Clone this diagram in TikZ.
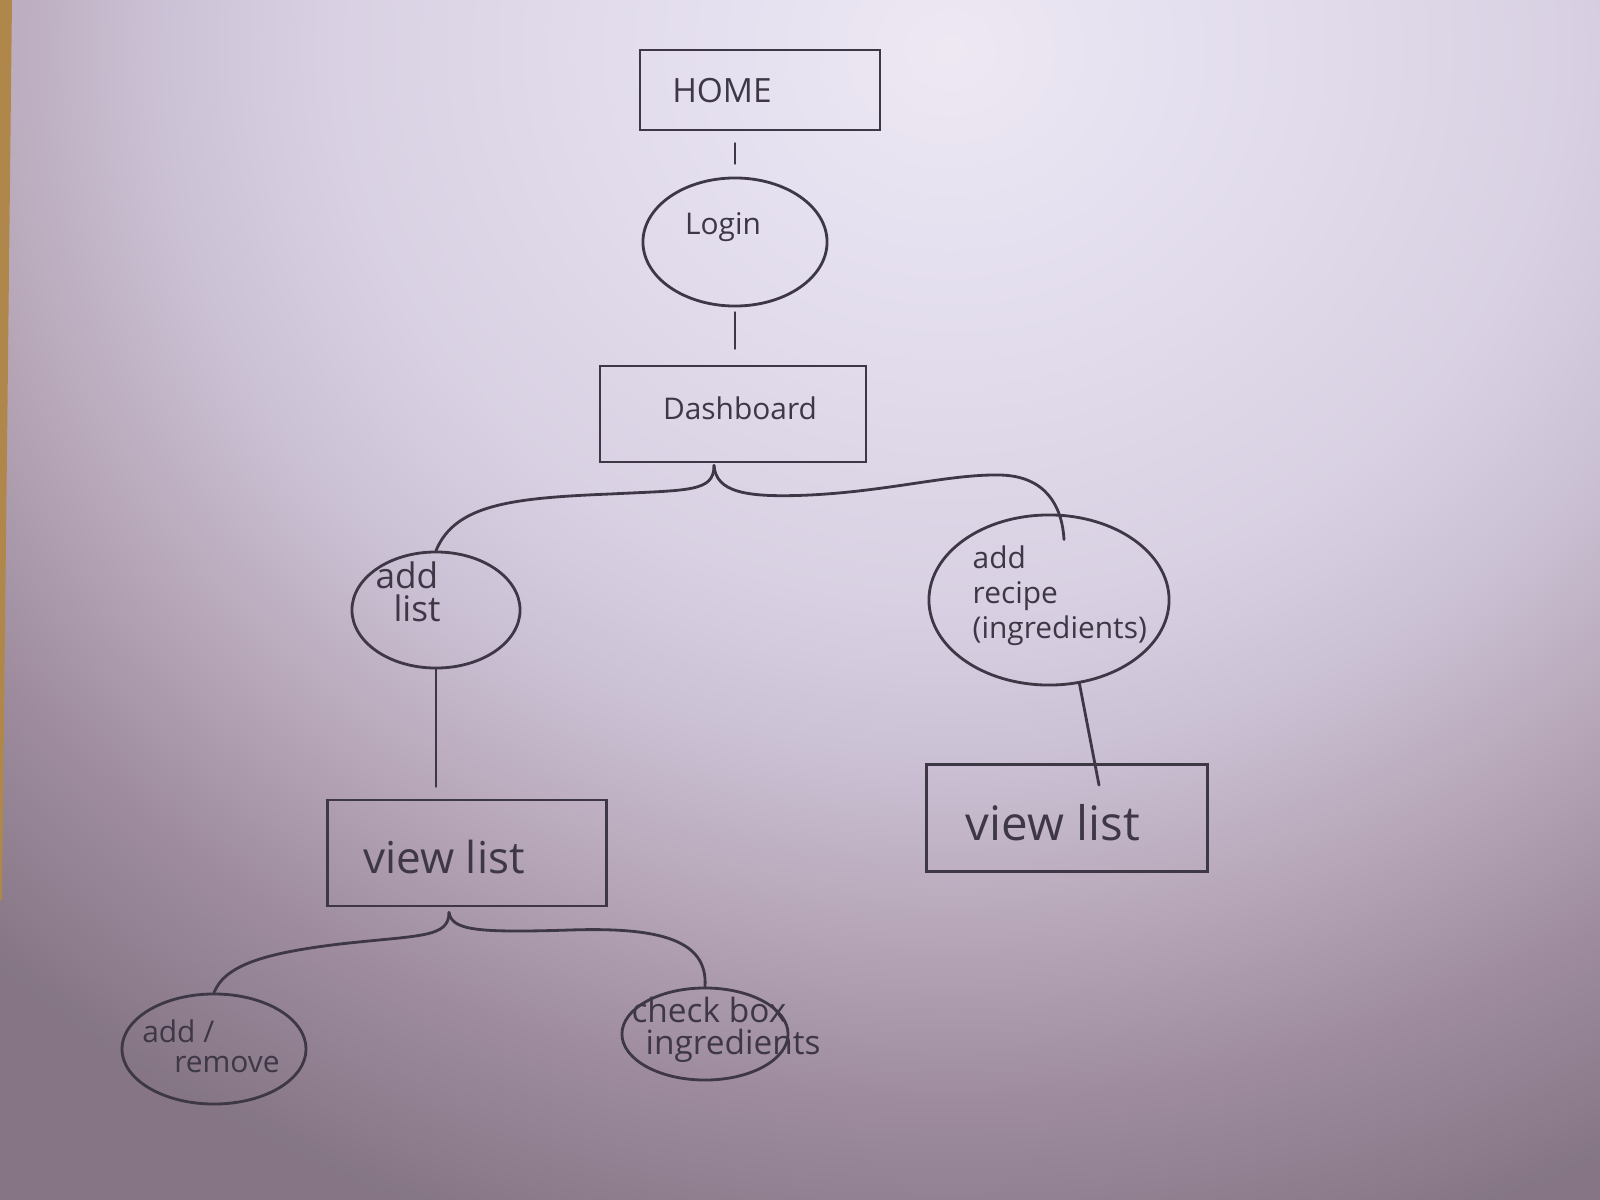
\documentclass[tikz,border=0pt]{standalone}
\usepackage{fontspec}
\setmainfont{Open Sans}
\usetikzlibrary{shapes.geometric,calc}
\definecolor{pencil}{RGB}{62,55,70}
\definecolor{strip}{RGB}{175,135,75}
\definecolor{paperdark}{rgb}{0.52,0.46,0.52}
\pgfdeclareradialshading{paper}{\pgfpoint{0bp}{0bp}}{%
  rgb(0bp)=(0.93,0.91,0.95);
  rgb(4bp)=(0.90,0.88,0.94);
  rgb(11bp)=(0.85,0.82,0.89);
  rgb(14bp)=(0.80,0.76,0.84);
  rgb(17bp)=(0.73,0.67,0.74);
  rgb(21bp)=(0.62,0.55,0.62);
  rgb(25bp)=(0.52,0.46,0.52);
  rgb(50bp)=(0.52,0.46,0.52)}
\tikzset{
  pen/.style={draw=pencil, line width=0.8pt},
  box/.style={pen, rectangle, inner sep=0pt},
  oval/.style={pen, ellipse, inner sep=0pt},
  txt/.style={text=pencil, inner sep=0pt},
  conn/.style={pen, line cap=round},
}
\begin{document}
\begin{tikzpicture}[x=0.01cm,y=-0.01cm]
% paper
\begin{scope}
  \clip (0,0) rectangle (1600,1200);
  \fill[paperdark] (0,0) rectangle (1600,1200);
  \shade[shading=paper] (950,50) ellipse [x radius=14cm, y radius=12.5cm];
  \fill[strip] (0,0) -- (12,0) -- (2,900) -- (0,900) -- cycle;
\end{scope}
\useasboundingbox (0,0) rectangle (1600,1200);

% boxes
\node[box, minimum width=2.4cm, minimum height=0.8cm] (home) at (760,90) {};
\node[box, minimum width=2.66cm, minimum height=0.96cm] (dash) at (733,414) {};
\node[box, minimum width=2.79cm, minimum height=1.06cm] (vl1) at (467,853) {};
\node[box, minimum width=2.81cm, minimum height=1.07cm] (vl2) at (1067,818) {};

% ellipses
\node[oval, minimum width=1.84cm, minimum height=1.28cm] (login) at (735,242) {};
\node[oval, minimum width=1.68cm, minimum height=1.16cm] (addlist) at (436,610) {};
\node[oval, minimum width=2.4cm, minimum height=1.7cm] (addrecipe) at (1049,600) {};
\node[oval, minimum width=1.84cm, minimum height=1.1cm] (addrem) at (214,1049) {};
\node[oval, minimum width=1.66cm, minimum height=0.92cm] (checkbox) at (705,1034) {};

% texts
\node[txt, font=\fontsize{9.5}{11}\selectfont] (homeT) at (722,91) {HOME};
\node[txt, font=\fontsize{8.5}{10}\selectfont] (loginT) at (723,227) {Login};
\node[txt, font=\fontsize{8.5}{10}\selectfont] (dashT) at (740,408) {Dashboard};
\node[txt, font=\fontsize{10}{9.5}\selectfont, align=left] (addlistT) at (408,592) {add\\\hspace*{0.18cm}list};
\node[txt, font=\fontsize{8.5}{10}\selectfont, align=left, anchor=west] (addrecipeT) at (972,596) {add\\recipe\\(ingredients)};
\node[txt, font=\fontsize{12.5}{14}\selectfont] (vl1T) at (444,857) {view list};
\node[txt, font=\fontsize{13.5}{15}\selectfont] (vl2T) at (1053,823) {view list};
\node[txt, font=\fontsize{8.5}{8.5}\selectfont, align=left] (addremT) at (211,1046) {add /\\\hspace*{0.32cm}remove};
\node[txt, font=\fontsize{9.5}{9}\selectfont, align=left] (checkboxT) at (726,1030) {check box\\\hspace*{0.14cm}ingredients};

% connectors
\draw[conn, shorten <=0.12cm, shorten >=0.13cm] (home.south -| login.north) -- (login.north);
\draw[conn, shorten <=0.05cm, shorten >=0.16cm] (login.south) -- (login.south |- dash.north);
\coordinate (dsplit) at ($(dash.south)+(-19,2)$);
\draw[conn] (dsplit) .. controls (714,492) and (690,490) .. (610,494)
  .. controls (510,498) and (455,505) .. (addlist.north);
\draw[conn] (dsplit) .. controls (716,492) and (745,498) .. (810,495)
  .. controls (890,491) and (950,474) .. (1000,475)
  .. controls (1045,476) and (1062,505) .. ($(addrecipe.north)+(15,26)$);
\draw[conn, shorten >=0.12cm] (addlist.south) -- (addlist.south |- vl1.north);
\draw[conn] (addrecipe.-70) -- ($(vl2.north)+(32,22)$);
\coordinate (vsplit) at ($(vl1.south)+(-18,5)$);
\draw[conn] (vsplit) .. controls (449,938) and (420,935) .. (340,944)
  .. controls (265,953) and (225,965) .. (addrem.north);
\draw[conn] (vsplit) .. controls (452,930) and (475,933) .. (570,930)
  .. controls (660,927) and (708,940) .. (checkbox.north);
\end{tikzpicture}
\end{document}
